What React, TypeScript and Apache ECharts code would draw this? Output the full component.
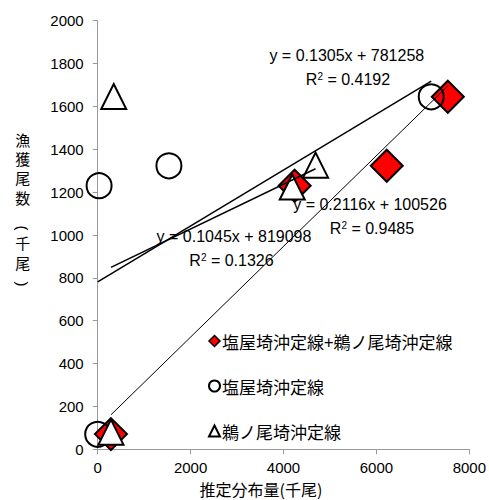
import React, { useEffect, useRef } from "react";
import * as echarts from "echarts";

// 塩屋埼沖定線+鵜ノ尾埼沖定線
const comboX = [285, 4240, 6223, 7537];
const comboY = [71, 1230, 1323, 1645];
// 塩屋埼沖定線
const shioyaX = [0, 30, 1533, 7180];
const shioyaY = [70, 1230, 1323, 1645];
// 鵜ノ尾埼沖定線
const unooX = [285, 345, 4188, 4690];
const unooY = [80, 1646, 1224, 1326];

const seriesNames = ["塩屋埼沖定線+鵜ノ尾埼沖定線", "塩屋埼沖定線", "鵜ノ尾埼沖定線"];
const trendSlopes = [0.2116, 0.1305, 0.1045];
const trendIntercepts = [100.526, 781.258, 819.098];
const trendEquations = ["y = 0.2116x + 100526", "y = 0.1305x + 781258", "y = 0.1045x + 819098"];
const trendR2 = ["0.9485", "0.4192", "0.1326"];

const xMin = 0, xMax = 8000, xInterval = 2000;
const yMin = 0, yMax = 2000, yInterval = 200;

const yTitleMain = "漁\n獲\n尾\n数";
const yTitleUnit = "千\n尾";
const xTitle = "推定分布量(千尾)";

const LATIN = "'Liberation Sans', Arial, 'Noto Sans CJK JP', sans-serif";
const CJK = "'Noto Sans CJK JP', 'Liberation Sans', sans-serif";

function zip(xs: number[], ys: number[]) {
  return xs.map((x, i) => [x, ys[i]]);
}
function trend(xs: number[], i: number) {
  const a = Math.min(...xs), b = Math.max(...xs);
  return [[a, trendSlopes[i] * a + trendIntercepts[i]], [b, trendSlopes[i] * b + trendIntercepts[i]]];
}

export default function App() {
  const ref = useRef<HTMLDivElement>(null);
  useEffect(() => {
    if (!ref.current) return;
    const chart = echarts.init(ref.current, null, { renderer: "svg" });
    const eqText = (text: string, x: number, y: number) => ({
      type: "text", x, y, z: 100,
      style: { text, font: `16px ${LATIN}`, fill: "#000", align: "center", verticalAlign: "middle" },
    });
    const r2Text = (val: string, x: number, y: number) => ({
      type: "text", x, y, z: 100,
      style: {
        text: `R{sup|2} = ${val}`, font: `16px ${LATIN}`, fill: "#000", align: "center", verticalAlign: "middle",
        rich: { sup: { fontSize: 10, fontFamily: LATIN, fill: "#000", verticalAlign: "top", lineHeight: 16 } },
      },
    });
    const yTitle: any[] = [
      {
        type: "text", x: 22.7, y: 168.3,
        style: { text: yTitleMain, font: `15px ${CJK}`, lineHeight: 19.3, fill: "#000", align: "center", verticalAlign: "middle" },
      },
      {
        type: "text", x: 22.7, y: 252,
        style: { text: yTitleUnit, font: `15px ${CJK}`, lineHeight: 20, fill: "#000", align: "center", verticalAlign: "middle" },
      },
      {
        type: "text", x: 22.7, y: 228, rotation: -Math.PI / 2,
        style: { text: "(", font: `15px ${LATIN}`, fill: "#000", align: "center", verticalAlign: "middle" },
      },
      {
        type: "text", x: 22.7, y: 284, rotation: -Math.PI / 2,
        style: { text: ")", font: `15px ${LATIN}`, fill: "#000", align: "center", verticalAlign: "middle" },
      },
    ];

    const scatterBase = { type: "scatter", z: 2 };
    const fmt = (v: number) => String(v);
    chart.setOption({
      animation: false,
      backgroundColor: "#fff",
      grid: { left: 97.7, right: 17.7, top: 20.7, bottom: 50.7, containLabel: false },
      xAxis: {
        type: "value", min: xMin, max: xMax, interval: xInterval,
        axisLine: { show: true, lineStyle: { color: "#9a9a9a", width: 1 } },
        axisTick: { show: true, length: 5, lineStyle: { color: "#9a9a9a" } },
        splitLine: { show: false },
        axisLabel: { color: "#000", fontSize: 15, fontFamily: LATIN, margin: 11, formatter: fmt },
      },
      yAxis: {
        type: "value", min: yMin, max: yMax, interval: yInterval,
        axisLine: { show: true, lineStyle: { color: "#9a9a9a", width: 1 } },
        axisTick: { show: true, length: 5, lineStyle: { color: "#9a9a9a" } },
        splitLine: { show: false },
        axisLabel: { color: "#000", fontSize: 15, fontFamily: LATIN, margin: 14, formatter: fmt },
      },
      legend: {
        orient: "vertical", left: 203, top: 326, itemWidth: 11, itemHeight: 11, itemGap: 25,
        textStyle: { fontSize: 17, fontFamily: CJK, color: "#000", lineHeight: 20, padding: [0, 0, 0, -3] },
        data: [
          { name: seriesNames[0], icon: "diamond", itemStyle: { color: "#ff0000", borderColor: "#000", borderWidth: 1.5 } },
          { name: seriesNames[1], icon: "circle", itemStyle: { color: "#fff", borderColor: "#000", borderWidth: 2 } },
          { name: seriesNames[2], icon: "triangle", itemStyle: { color: "#fff", borderColor: "#000", borderWidth: 2 } },
        ],
      },
      series: [
        {
          ...scatterBase, name: seriesNames[0], symbol: "diamond", symbolSize: 32,
          itemStyle: { color: "#ff0000", borderColor: "#000", borderWidth: 2, opacity: 1 },
          data: zip(comboX, comboY), z: 2,
        },
        {
          ...scatterBase, name: seriesNames[1], symbol: "circle", symbolSize: 25,
          itemStyle: { color: "rgba(0,0,0,0)", borderColor: "#000", borderWidth: 2, opacity: 1 },
          data: zip(shioyaX, shioyaY), z: 3,
        },
        {
          ...scatterBase, name: seriesNames[2], symbol: "triangle", symbolSize: 25,
          itemStyle: { color: "#fff", borderColor: "#000", borderWidth: 2, opacity: 1 },
          data: zip(unooX, unooY), z: 4,
        },
        {
          type: "line", name: "trend0", data: trend(comboX, 0), symbol: "none", z: 5,
          lineStyle: { color: "#000", width: 1 }, silent: true,
        },
        {
          type: "line", name: "trend1", data: trend(shioyaX, 1), symbol: "none", z: 5,
          lineStyle: { color: "#000", width: 1.5 }, silent: true,
        },
        {
          type: "line", name: "trend2", data: trend(unooX, 2), symbol: "none", z: 5,
          lineStyle: { color: "#000", width: 1.5 }, silent: true,
        },
      ],
      graphic: [
        eqText(trendEquations[1], 346.8, 55),
        r2Text(trendR2[1], 348, 79.3),
        eqText(trendEquations[0], 370, 204),
        r2Text(trendR2[0], 372, 228.3),
        eqText(trendEquations[2], 234, 236.7),
        r2Text(trendR2[2], 231.5, 260.7),
        ...yTitle,
        {
          type: "text", x: 261, y: 488.5,
          style: { text: xTitle, font: `16px ${CJK}`, fill: "#000", align: "center", verticalAlign: "middle" },
        },
      ],
    });
    return () => chart.dispose();
  }, []);
  return (
    <div
      ref={ref}
      style={{ position: "fixed", left: 0, top: 0, width: 489, height: 500, background: "#fff" }}
    />
  );
}
